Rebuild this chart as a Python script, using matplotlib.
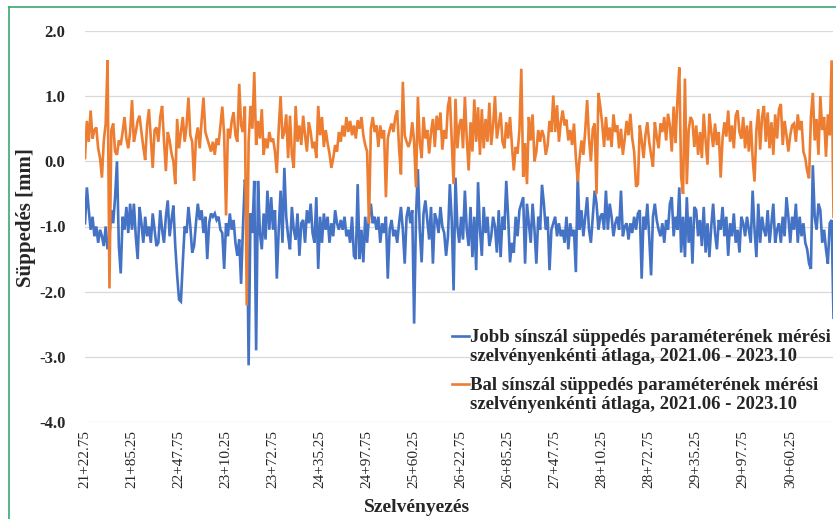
import numpy as np
import matplotlib as mpl
mpl.use('Agg')
import matplotlib.pyplot as plt
from matplotlib.lines import Line2D

plt.rcParams['font.family'] = ['Liberation Serif', 'DejaVu Serif']

blue   = '#4472C4'
orange = '#ED7D31'
green  = '#3aa86e'
grid   = '#d9d9d9'
txt    = '#262626'

# chainage of the first point [m] and spacing between points
start_chainage = 2122.75
step_chainage  = 2.5

# Jobb (right rail) - blue
jobb = [
    -0.95, -0.40, -0.75, -1.05, -0.85, -1.15, -1.00, -1.25, -1.05, -1.15, -1.30, -1.00, -1.35, -1.15, -0.75, -0.95, -0.55, 0.00, -1.30, -1.72, -0.85, -1.05, -0.70, -1.10, -0.65,
    -1.05, -0.65, -1.15, -1.50, -0.70, -0.95, -1.25, -0.85, -1.15, -1.00, -1.25, -0.80, -1.05, -1.30, -1.25, -0.75, -1.05, -1.25, -0.85, -0.60, -1.15, -0.90, -0.68, -1.30, -1.75,
    -2.12, -2.15, -1.55, -1.00, -1.10, -0.70, -1.00, -1.40, -1.30, -0.95, -0.65, -0.90, -0.75, -1.10, -0.85, -1.50, -0.95, -0.80, -0.85, -0.80, -0.90, -0.85, -1.05, -1.10, -1.65,
    -0.95, -1.15, -0.80, -1.05, -0.90, -1.25, -1.45, -1.20, -1.88, -1.00, -0.28, -0.45, -3.13, -0.80, -1.10, -0.30, -2.90, -0.30, -1.10, -1.35, -0.80, -1.20, -0.45, -1.05, -0.55,
    -1.05, -0.75, -1.80, -1.05, -0.45, -1.25, -0.10, -0.85, -1.15, -1.35, -0.70, -1.05, -1.20, -0.80, -1.45, -0.95, -0.90, -1.25, -0.75, -0.95, -0.65, -1.10, -1.25, -0.55, -1.65,
    -0.85, -1.25, -0.80, -1.05, -0.85, -1.25, -0.95, -1.15, -0.75, -0.95, -1.05, -0.90, -1.05, -0.85, -1.15, -1.05, -1.25, -0.85, -1.45, -1.50, -0.35, -1.50, -1.05, -1.55, -0.85,
    -1.25, -0.85, -0.65, -0.95, -0.85, -1.05, -0.85, -1.25, -0.95, -1.10, -0.85, -1.80, -1.05, -0.90, -1.15, -1.05, -1.25, -0.95, -0.70, -1.05, -1.57, -0.85, -0.70, -0.95, -0.75,
    -2.49, -0.85, -0.12, -1.05, -1.55, -0.80, -0.60, -0.90, -1.20, -0.70, -1.57, -0.80, -0.90, -1.10, -0.70, -1.00, -1.10, -1.45, -1.15, -0.35, -0.90, -1.98, -0.25, -1.00, -1.25,
    -0.85, -1.20, -0.45, -1.05, -1.30, -0.70, -1.47, -0.85, -1.67, -0.32, -1.05, -1.45, -0.70, -1.10, -0.85, -1.30, -1.15, -0.85, -1.00, -1.40, -0.75, -1.47, -0.85, -1.05, -0.30,
    -0.85, -1.55, -1.25, -1.40, -0.85, -1.15, -0.75, -0.65, -0.55, -1.57, -0.65, -0.95, -1.25, -0.65, -1.05, -1.57, -0.85, -1.05, -0.36, -0.65, -1.05, -0.85, -1.67, -1.05, -0.95,
    -0.85, -1.15, -0.95, -1.15, -1.05, -1.25, -0.85, -1.35, -0.95, -1.15, -1.05, -1.70, -0.20, -1.05, -0.75, -1.15, -0.85, -0.55, -1.05, -1.25, -0.85, -0.45, -0.65, -1.05, -0.85,
    -0.80, -1.05, -0.45, -1.05, -0.65, -0.85, -1.15, -0.95, -0.85, -1.05, -0.45, -1.15, -1.00, -0.95, -1.20, -0.95, -1.10, -0.85, -1.05, -0.80, -0.75, -1.80, -0.85, -1.05, -0.65,
    -1.15, -1.75, -0.85, -0.65, -0.90, -1.05, -1.15, -0.95, -1.25, -0.90, -1.05, -0.65, -0.55, -1.15, -0.85, -1.05, -0.40, -1.40, -0.85, -1.47, -0.55, -1.25, -0.85, -1.57, -0.70,
    -0.75, -1.15, -0.90, -1.30, -0.70, -1.40, -0.95, -1.47, -1.00, -0.65, -1.10, -1.35, -0.90, -1.05, -0.70, -1.15, -0.85, -1.45, -0.95, -1.15, -0.80, -1.25, -1.05, -1.40, -0.85,
    -0.95, -1.15, -0.85, -1.05, -1.25, -0.45, -1.05, -1.47, -0.65, -1.25, -0.85, -1.05, -1.15, -0.75, -1.25, -0.95, -0.65, -1.25, -1.05, -0.95, -1.25, -0.85, -1.15, -0.55, -0.85,
    -1.25, -0.85, -1.05, -0.65, -1.25, -0.85, -1.15, -0.95, -1.25, -1.35, -1.57, -1.65, -0.06, -0.85, -1.05, -0.65, -0.75, -1.25, -1.05, -1.35, -1.57, -0.95, -0.90, -2.40,
]

# Bal (left rail) - orange
bal = [
    0.05, 0.62, 0.30, 0.78, 0.35, 0.48, 0.52, 0.20, 0.05, -0.25, 0.32, 0.58, 1.55, -1.95, 0.48, 0.58, 0.15, 0.10, 0.32, 0.25, 0.45, 0.68, 0.35, 0.20, 0.45,
    0.94, 0.30, 0.45, 0.62, 0.70, 0.45, 0.22, 0.02, 0.55, 0.80, 0.35, -0.10, 0.48, 0.52, 0.30, 0.68, 0.85, 0.32, -0.15, 0.45, 0.32, 0.12, 0.00, -0.35, 0.65,
    0.20, 0.45, 0.68, 0.30, 0.55, 0.98, 0.40, 0.30, -0.30, 0.35, 0.52, 0.20, 0.62, 0.98, 0.45, 0.35, 0.25, 0.15, 0.30, 0.10, 0.35, 0.25, 0.55, 0.84, 0.40,
    -0.83, 0.50, 0.35, 0.62, 0.75, 0.40, 0.30, 1.19, 0.55, 0.45, 0.84, -2.21, 0.30, 0.85, 0.50, 1.37, 0.25, 0.62, 0.35, 0.80, 0.10, 0.35, 0.20, 0.45, 0.30,
    0.35, 0.15, -0.18, 0.50, 1.00, 0.35, 0.45, 0.72, 0.05, 0.70, 0.10, -0.10, 0.85, 0.30, 0.55, 0.25, 0.70, 0.40, 0.15, 0.60, 0.45, 0.20, 0.30, 0.05, 0.85,
    0.40, 0.68, 0.22, 0.48, 0.28, 0.12, -0.10, 0.05, 0.25, 0.15, 0.45, 0.30, 0.55, 0.38, 0.68, 0.45, 0.62, 0.40, 0.55, 0.35, 0.63, 0.50, 0.68, 0.40, 0.25,
    0.15, -0.96, 0.50, 0.68, 0.45, 0.55, 0.22, 0.55, 0.35, 0.48, -0.55, 0.35, 0.48, 0.58, 0.45, 0.68, 0.78, 0.20, -0.20, 1.22, 0.40, 0.30, 0.22, 0.32, 0.60,
    0.30, -0.40, 0.99, 0.30, 0.05, 0.68, 0.35, 0.48, 0.12, 0.45, 0.65, 0.22, 0.70, 0.48, 0.75, 0.18, 0.48, 0.35, 0.85, 0.99, 0.30, -0.35, 0.96, 0.20, 0.55,
    0.65, 0.20, 0.99, 0.35, -0.14, 0.60, 0.15, 0.95, 0.30, 0.83, 0.10, 0.80, 0.20, 0.65, 0.30, 0.90, 0.25, 0.55, 1.00, 0.35, 0.55, 0.75, 0.30, 0.20, 0.60,
    0.35, 0.68, 0.25, -0.14, 0.22, 0.12, 0.48, 1.42, -0.24, 0.28, -0.35, 0.68, 0.32, 0.72, 0.00, 0.15, 0.48, 0.30, 0.48, 0.38, 0.10, 0.25, 0.62, 0.45, 1.01,
    0.45, 0.86, 0.30, 0.60, 0.78, 0.55, 0.64, 0.32, 0.48, 0.25, 0.58, 0.07, -0.31, 0.05, 0.32, 0.10, 0.48, 0.94, 0.35, 0.00, 0.50, 0.58, -0.50, 1.05, 0.84,
    0.58, 0.22, 0.68, 0.32, 0.52, 0.22, 0.72, 0.45, 0.55, 0.20, 0.50, 0.10, 0.35, 0.62, 0.40, 0.73, 0.35, 0.15, -0.39, -0.35, 0.55, 0.32, 0.05, 0.40, 0.60,
    0.30, 0.10, -0.08, 0.60, 0.38, 0.20, 0.58, 0.45, 0.68, 0.32, 0.73, 0.55, 0.15, 0.84, 0.28, 0.94, 1.44, -0.24, -0.50, 1.27, -0.35, 0.48, 0.68, 0.62, 0.22,
    0.55, 0.10, 0.45, 0.05, 0.73, 0.32, -0.05, 0.73, 0.45, 0.22, 0.58, 0.25, 0.45, -0.25, 0.35, 0.60, 0.38, 0.78, 0.30, 0.55, 0.20, 0.70, 0.78, 0.45, 0.35,
    0.68, 0.20, 0.55, 0.15, 0.62, 0.05, -0.31, 0.48, 0.80, 0.18, 0.68, 0.85, 0.30, 0.75, 0.20, 0.60, 0.10, 0.72, 0.35, 0.80, 0.88, 0.25, 0.62, 0.40, 0.15,
    0.40, 0.55, 0.58, 0.30, 0.72, 0.48, 0.62, 0.15, 0.05, -0.15, -0.26, 0.68, 1.05, 0.32, 0.65, 0.10, 1.00, 0.48, 0.68, 0.07, 0.72, 0.40, 1.55, -0.85,
]

x_labels = ['21+22.75', '21+85.25', '22+47.75', '23+10.25', '23+72.75', '24+35.25',
            '24+97.75', '25+60.25', '26+22.75', '26+85.25', '27+47.75', '28+10.25',
            '28+72.75', '29+35.25', '29+97.75', '30+60.25']
label_every = 25

y_ticks = [-4.0, -3.0, -2.0, -1.0, 0.0, 1.0, 2.0]

jobb_label = 'Jobb sínszál süppedés paraméterének mérési\nszelvényenkénti átlaga, 2021.06 - 2023.10'
bal_label  = 'Bal sínszál süppedés paraméterének mérési\nszelvényenkénti átlaga, 2021.06 - 2023.10'


W, H = 837, 519
fig = plt.figure(figsize=(W / 100, H / 100), dpi=100)
ax = fig.add_axes([85 / W, 1 - 422 / H, (833.5 - 85) / W, (422 - 31) / H])

chainage = start_chainage + step_chainage * np.arange(len(jobb))

ax.plot(chainage, jobb, color=blue, lw=1.9, solid_joinstyle='miter')
ax.plot(chainage, bal, color=orange, lw=1.9, solid_joinstyle='miter')

ax.set_xlim(chainage[0], chainage[-1])
ax.set_ylim(-4.0, 2.0)

ax.set_xticks(chainage[::label_every][:len(x_labels)], x_labels)
ax.set_yticks(y_ticks, ['%.1f' % v for v in y_ticks])
ax.tick_params(axis='x', length=0, pad=6, labelsize=11, labelrotation=90, colors=txt)
ax.tick_params(axis='y', length=0, pad=14, labelsize=12, colors=txt)
for lab in ax.get_yticklabels():
    lab.set_fontweight('bold')

ax.grid(axis='y', color=grid, lw=0.9)
ax.set_axisbelow(True)
for s in ax.spines.values():
    s.set_visible(False)

# axis titles
fig.text(26 / W, 1 - 218 / H, 'Süppedés [mm]', rotation=90, ha='center', va='center',
         fontsize=15, fontweight='bold', color=txt)
fig.text(417 / W, 1 - 507 / H, 'Szelvényezés', ha='center', va='center',
         fontsize=14, fontweight='bold', color=txt)

# legend, handle lines up with the first line of each label
for label, col, y1 in [(jobb_label, blue, 336), (bal_label, orange, 384)]:
    fig.add_artist(Line2D([452 / W, 469 / W], [1 - y1 / H, 1 - y1 / H],
                          color=col, lw=1.9, transform=fig.transFigure))
    fig.text(470 / W, 1 - (y1 + 11) / H, label, ha='left', va='center',
             fontsize=13.5, fontweight='bold', color=txt, linespacing=1.15)

# green frame
fig.add_artist(Line2D([9 / W, 1.0], [1 - 7 / H, 1 - 7 / H], color=green, lw=1.2,
                      transform=fig.transFigure))
fig.add_artist(Line2D([9 / W, 9 / W], [0.0, 1 - 7 / H], color=green, lw=1.2,
                      transform=fig.transFigure))

fig.savefig('out.png', dpi=100, facecolor='white')
plt.close()
